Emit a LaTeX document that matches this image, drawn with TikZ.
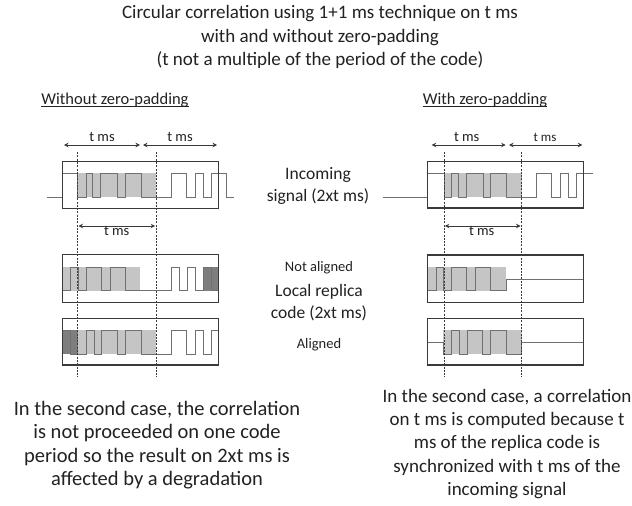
\documentclass[tikz,border=0pt]{standalone}
\usepackage{fontspec}
\setmainfont{Carlito}
\usetikzlibrary{arrows.meta}
\definecolor{txt}{HTML}{222222}
\definecolor{boxc}{HTML}{3A3A3A}
\definecolor{wavec}{HTML}{707070}
\definecolor{lgrey}{HTML}{C5C5C5}
\definecolor{dgrey}{HTML}{7E7E7E}
\tikzset{
  big/.style={font=\fontsize{19}{23.2}\selectfont, text=txt, align=center, inner sep=0pt},
  bigl/.style={font=\fontsize{20.5}{23.3}\selectfont, text=txt, align=center, inner sep=0pt},
  mid/.style={font=\fontsize{17.5}{21.5}\selectfont, text=txt, align=center, inner sep=0pt},
  small/.style={font=\fontsize{14.5}{17}\selectfont, text=txt, inner sep=0pt},
  sub/.style={font=\fontsize{16.5}{20}\selectfont, text=txt, inner sep=0pt},
  sigbox/.style={draw=boxc, line width=1.1pt},
  wave/.style={draw=wavec, line width=0.9pt},
  guide/.style={draw=boxc, line width=0.7pt, dash pattern=on 2pt off 1.3pt},
  span/.style={draw=boxc, line width=0.8pt, {Stealth[length=4.5pt,width=4.5pt]}-{Stealth[length=4.5pt,width=4.5pt]}}
}
\begin{document}
\begin{tikzpicture}[x=1pt,y=-1pt]
\useasboundingbox (0,0) rectangle (632,506);
\fill[white] (0,0) rectangle (632,506);

% titles
\node[big] (title) at (320,37) {Circular correlation using 1+1 ms technique on t ms\\with and without zero-padding\\(t not a multiple of the period of the code)};
\node[sub, anchor=base] (wo) at (115,104) {Without zero-padding};
\draw[txt, line width=0.7pt] ([yshift=-2.2pt]wo.base west) -- ([yshift=-2.2pt]wo.base east);
\node[sub, anchor=base] (wi) at (485,104) {With zero-padding};
\draw[txt, line width=0.7pt] ([yshift=-2.2pt]wi.base west) -- ([yshift=-2.2pt]wi.base east);

% centre labels
\node[mid] (inc) at (318,186) {Incoming\\signal (2xt ms)};
\node[small] (na) at (319,268) {Not aligned};
\node[mid] (loc) at (319,302.5) {Local replica\\code (2xt ms)};
\node[small] (al) at (319,345) {Aligned};

% bottom texts
\node[bigl] (lt) at (157,445) {In the second case, the correlation\\is not proceeded on one code\\period so the result on 2xt ms is\\affected by a degradation};
\node[big] (rt) at (507,444) {In the second case, a correlation\\on t ms is computed because t\\ms of the replica code is\\synchronized with t ms of the\\incoming signal};

% ---------------- LEFT PANEL ----------------
\fill[lgrey] (77.7,173.3) rectangle (156,197.3);
\fill[lgrey] (62.3,267.3) rectangle (140,290.7);
\fill[dgrey] (203.3,267.3) rectangle (218.5,290.7);
\fill[dgrey] (62.3,330) rectangle (77.7,354);
\fill[lgrey] (77.7,330) rectangle (156,354);
\draw[wave] (47,197.3) -| (62.3,173.3) -| (77.7,197.3) -| (86,173.3) -| (92.5,197.3) -| (100.5,173.3) -| (117.5,197.3) -| (125,173.3) -| (141,197.3) -| (171.7,173.3) -| (186.7,197.3) -| (195,173.3) -| (203.3,197.3) -| (211,173.3) -| (226,197.3) -- (234,197.3);
\draw[wave] (62.3,290.7) -| (70,267.3) -| (78.3,290.7) -| (86.7,267.3) -| (101.7,290.7) -| (110,267.3) -| (125,290.7) -| (171.7,267.3) -| (179,290.7) -| (187.2,267.3) -| (195.3,290.7) -| (203.3,267.3) -| (211.7,290.7) -- (218.5,290.7);
\draw[wave] (62.3,330) -| (70,354) -| (86.7,330) -| (94,354) -| (101.7,330) -| (117.5,354) -| (125,330) -| (141,354) -| (171.7,330) -| (186.7,354) -| (195.5,330) -| (203.3,354) -| (211,330) -- (218.5,330);
\node[sigbox, minimum width=156.2pt, minimum height=46.8pt, inner sep=0pt] (lbi) at (140.4,184.9) {};
\node[sigbox, minimum width=156.2pt, minimum height=48pt, inner sep=0pt] (lbn) at (140.4,278.5) {};
\node[sigbox, minimum width=156.2pt, minimum height=46.7pt, inner sep=0pt] (lba) at (140.4,341.65) {};
\coordinate (lg1t) at (77.7,152); \coordinate (lg1b) at (77.7,377);
\coordinate (lg2t) at (156,152); \coordinate (lg2b) at (156,377);
\draw[guide] (lg1t) -- (lg1b);
\draw[guide] (lg2t) -- (lg2b);
\coordinate (la1) at (64,145); \coordinate (la2) at (140,145);
\coordinate (la3) at (143,145); \coordinate (la4) at (217,145);
\coordinate (la5) at (78.5,226); \coordinate (la6) at (155.2,226);
\draw[span] (la1) -- (la2);
\draw[span] (la3) -- (la4);
\draw[span] (la5) -- (la6);
\node[small] (ltm1) at (102,137) {t ms};
\node[small] (ltm2) at (180,137) {t ms};
\node[small] (ltm3) at (116.7,231) {t ms};

% ---------------- RIGHT PANEL ----------------
\fill[lgrey] (444.3,173.3) rectangle (521.7,197.3);
\fill[lgrey] (427.5,267.3) rectangle (506,290.7);
\fill[lgrey] (443.3,330) rectangle (521.7,354);
\draw[wave] (383.3,197.3) -| (427.5,173.3) -| (444.3,197.3) -| (451.7,173.3) -| (458.3,197.3) -| (466.7,173.3) -| (483.3,197.3) -| (490,173.3) -| (506.7,197.3) -| (536.7,173.3) -| (551,197.3) -| (560,173.3) -| (568.3,197.3) -| (576.7,173.3) -- (593.3,173.3);
\draw[wave] (427.5,290.7) -| (436,267.3) -| (443.3,290.7) -| (451.7,267.3) -| (466.7,290.7) -| (475,267.3) -| (490,290.7) -| (506,279) -- (583.5,279);
\draw[wave] (427.5,342) -| (443.3,354) -| (451.7,330) -| (459.3,354) -| (467.7,330) -| (482.7,354) -| (490.7,330) -| (506.7,354) -| (521.7,342) -- (583.5,342);
\node[sigbox, minimum width=156pt, minimum height=46.5pt, inner sep=0pt] (rbi) at (505.5,184.75) {};
\node[sigbox, minimum width=156pt, minimum height=47.3pt, inner sep=0pt] (rbn) at (505.5,278.65) {};
\node[sigbox, minimum width=156pt, minimum height=46.7pt, inner sep=0pt] (rba) at (505.5,341.65) {};
\coordinate (rg1t) at (444,152); \coordinate (rg1b) at (444,377);
\coordinate (rg2t) at (521.7,152); \coordinate (rg2b) at (521.7,377);
\draw[guide] (rg1t) -- (rg1b);
\draw[guide] (rg2t) -- (rg2b);
\coordinate (ra1) at (431.7,145); \coordinate (ra2) at (505.7,145);
\coordinate (ra3) at (509,145); \coordinate (ra4) at (582.3,145);
\coordinate (ra5) at (444.8,226); \coordinate (ra6) at (520.5,226);
\draw[span] (ra1) -- (ra2);
\draw[span] (ra3) -- (ra4);
\draw[span] (ra5) -- (ra6);
\node[small] (rtm1) at (466.7,137) {t ms};
\node[small, font=\fontsize{13}{15}\selectfont] (rtm2) at (545,137) {t ms};
\node[small] (rtm3) at (481.7,231) {t ms};
\end{tikzpicture}
\end{document}
